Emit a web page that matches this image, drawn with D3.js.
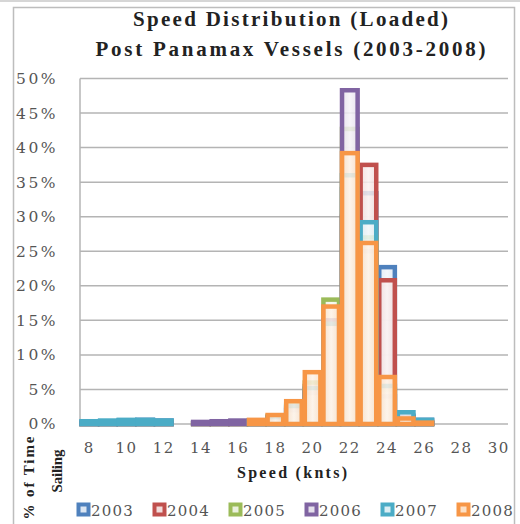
<!DOCTYPE html>
<html>
<head>
<meta charset="utf-8">
<script src="https://cdn.jsdelivr.net/npm/d3@7"></script>
<style>
  html, body { margin: 0; padding: 0; background: #fff; overflow: hidden; }
  svg { display: block; }
</style>
</head>
<body>
<svg id="chart" width="520" height="524"></svg>
<script>
// Speed bins (knots) and axis ticks
const speeds = [8, 9, 10, 11, 12, 13, 14, 15, 16, 17, 18, 19, 20, 21, 22, 23, 24, 25, 26, 27, 28, 29, 30];
const speedTicks = [8, 10, 12, 14, 16, 18, 20, 22, 24, 26, 28, 30];
const pctTicks = [0, 5, 10, 15, 20, 25, 30, 35, 40, 45, 50];

// Share of sailing time (%) per speed bin, one array per year
const years = ["2003", "2004", "2005", "2006", "2007", "2008"];
const share2003 = [0.3, 0.4, 0.5, 0.6, 0.5, 0, 0.2, 0.3, 0.4, 0.5, 1.0, 2.4, 5.0, 13.5, 34.0, 33.4, 22.7, 1.2, 0.6, 0, 0, 0, 0];
const share2004 = [0.1, 0.2, 0.3, 0.3, 0.2, 0, 0.1, 0.2, 0.3, 0.4, 0.9, 2.2, 5.5, 14.0, 30.0, 37.5, 20.8, 1.0, 0.3, 0, 0, 0, 0];
const share2005 = [0.1, 0.2, 0.2, 0.3, 0.2, 0, 0.1, 0.2, 0.3, 0.5, 1.1, 2.8, 6.0, 18.0, 42.7, 27.0, 5.0, 0.5, 0.1, 0, 0, 0, 0];
const share2006 = [0.1, 0.1, 0.2, 0.2, 0.1, 0, 0.3, 0.4, 0.5, 0.4, 0.8, 2.0, 4.5, 15.0, 48.3, 25.0, 4.0, 0.4, 0.1, 0, 0, 0, 0];
const share2007 = [0.4, 0.5, 0.6, 0.6, 0.5, 0, 0, 0, 0, 0.5, 1.0, 2.6, 5.2, 14.5, 36.0, 29.2, 5.5, 1.7, 0.6, 0, 0, 0, 0];
const share2008 = [0, 0, 0, 0, 0, 0, 0, 0, 0, 0.6, 1.3, 3.3, 7.5, 17.0, 39.2, 26.2, 6.8, 0.8, 0.2, 0, 0, 0, 0];
const shares = [share2003, share2004, share2005, share2006, share2007, share2008];

const strokeColors = ["#4F81BD", "#C0504D", "#9BBB59", "#8064A2", "#4BACC6", "#F79646"];
const fillColors   = ["#DCE6F2", "#F2DCDB", "#EBF1DE", "#E5E0EC", "#DBEEF4", "#FCE0C6"];

const svg = d3.select("#chart");
const plot = { left: 80, right: 508, top: 78.5, bottom: 424 };

// Bar fills: tinted edges with a paler centre
const defs = svg.append("defs");
years.forEach((yr, i) => {
  const g = defs.append("linearGradient").attr("id", "fill-" + yr)
    .attr("x1", 0).attr("x2", 1).attr("y1", 0).attr("y2", 0);
  const pale = d3.interpolateRgb(fillColors[i], "#ffffff")(0.6);
  g.append("stop").attr("offset", "0%").attr("stop-color", fillColors[i]);
  g.append("stop").attr("offset", "50%").attr("stop-color", pale);
  g.append("stop").attr("offset", "100%").attr("stop-color", fillColors[i]);
});

// Outer frame
svg.append("line").attr("x1", 0).attr("x2", 520).attr("y1", 1).attr("y2", 1)
  .attr("stroke", "#c8c8c8").attr("stroke-width", 1.5);
svg.append("rect").attr("x", 13.5).attr("y", 7.5).attr("width", 501).attr("height", 530)
  .attr("fill", "#fff").attr("stroke", "#bdbdbd").attr("stroke-width", 1.5);

const x = d3.scaleBand().domain(speeds).range([plot.left, plot.right]).paddingInner(0).paddingOuter(0);
const y = d3.scaleLinear().domain([0, 50]).range([plot.bottom, plot.top]);

// Horizontal gridlines
svg.append("g")
  .selectAll("line").data(pctTicks).join("line")
  .attr("x1", plot.left).attr("x2", plot.right)
  .attr("y1", d => y(d)).attr("y2", d => y(d))
  .attr("stroke", "#b4b4b4").attr("stroke-width", 1.5);

// Value axis line
svg.append("line").attr("x1", plot.left).attr("x2", plot.left)
  .attr("y1", y(50)).attr("y2", y(0)).attr("stroke", "#b4b4b4").attr("stroke-width", 1.5);

// Y axis labels
const yAxis = svg.append("g").attr("transform", `translate(${plot.left},0)`)
  .call(d3.axisLeft(y).tickValues(pctTicks).tickFormat(d => d + "%").tickSize(0).tickPadding(22));
yAxis.select(".domain").remove();
yAxis.selectAll("text")
  .attr("font-family", "DejaVu Serif").attr("font-size", 15.5).attr("fill", "#555")
  .attr("letter-spacing", 2.5);

// X axis labels
const xAxis = svg.append("g").attr("transform", `translate(0,${plot.bottom})`)
  .call(d3.axisBottom(x).tickValues(speedTicks).tickSize(0).tickPadding(18));
xAxis.select(".domain").remove();
xAxis.selectAll("text")
  .attr("font-family", "DejaVu Serif").attr("font-size", 15).attr("fill", "#555")
  .attr("letter-spacing", 1.5);

// Overlapping outlined bars, one layer per year (later years drawn on top)
const barW = x.bandwidth() - 3;
years.forEach((yr, i) => {
  const rows = speeds.map((s, k) => ({ s, v: shares[i][k] })).filter(d => d.v > 0);
  svg.append("g").attr("class", "yr-" + yr)
    .selectAll("rect").data(rows).join("rect")
    .attr("x", d => x(d.s) + (x.bandwidth() - barW) / 2)
    .attr("width", barW)
    .attr("y", d => y(d.v))
    .attr("height", d => y(0) - y(d.v))
    .attr("fill", `url(#fill-${yr})`).attr("fill-opacity", 0.85)
    .attr("stroke", strokeColors[i]).attr("stroke-width", 4.5);
});

// Titles
const title = svg.append("g").attr("font-family", "Liberation Serif").attr("font-weight", "bold")
  .attr("fill", "#222").attr("font-size", 21).attr("text-anchor", "middle");
title.append("text").attr("x", 290.5).attr("y", 26)
  .attr("textLength", 315).attr("lengthAdjust", "spacing").text("Speed Distribution (Loaded)");
title.append("text").attr("x", 290.5).attr("y", 56)
  .attr("textLength", 390).attr("lengthAdjust", "spacing").text("Post Panamax Vessels (2003-2008)");

svg.append("text").attr("x", 292).attr("y", 478)
  .attr("font-family", "Liberation Serif").attr("font-weight", "bold").attr("font-size", 16)
  .attr("fill", "#222").attr("text-anchor", "middle")
  .attr("textLength", 110).attr("lengthAdjust", "spacing").text("Speed (knts)");

const yTitle = svg.append("g").attr("font-family", "Liberation Serif").attr("font-weight", "bold")
  .attr("font-size", 15).attr("fill", "#222").attr("text-anchor", "middle");
yTitle.append("text").attr("transform", "translate(34,478) rotate(-90)")
  .attr("textLength", 83).attr("lengthAdjust", "spacing").text("% of Time");
yTitle.append("text").attr("transform", "translate(62,471) rotate(-90)")
  .attr("textLength", 43).attr("lengthAdjust", "spacing").text("Sailing");

// Legend
const legend = svg.append("g").attr("transform", "translate(77,503)");
const item = legend.selectAll("g").data(years).join("g")
  .attr("transform", (d, i) => `translate(${i * 76},0)`);
item.append("rect").attr("x", 1.5).attr("y", 1.5).attr("width", 10).attr("height", 10)
  .attr("fill", (d, i) => fillColors[i]).attr("stroke", (d, i) => strokeColors[i]).attr("stroke-width", 4);
item.append("text").attr("x", 14).attr("y", 13)
  .attr("font-family", "DejaVu Serif").attr("font-size", 15).attr("fill", "#555")
  .attr("letter-spacing", 1.2).text(d => d);
</script>
</body>
</html>
